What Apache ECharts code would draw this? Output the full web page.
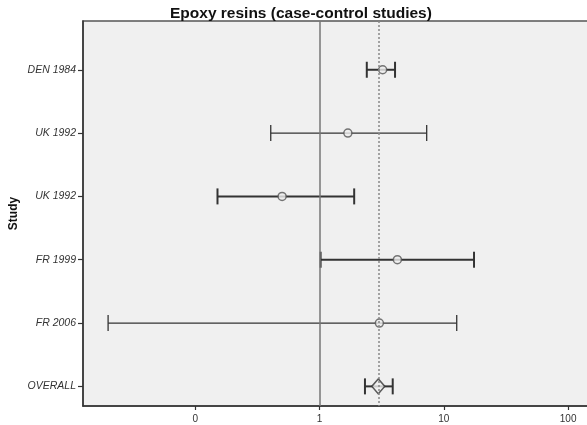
<!DOCTYPE html>
<html>
<head>
<meta charset="utf-8">
<script src="https://cdn.jsdelivr.net/npm/echarts@6/dist/echarts.min.js"></script>
<style>
  html, body { margin: 0; padding: 0; background: #fff; }
  #chart { width: 587px; height: 425px; }
</style>
</head>
<body>
<div id="chart"></div>
<script>
// odds ratios with 95% CI (log scale)
const studies = ["DEN 1984", "UK 1992", "UK 1992", "FR 1999", "FR 2006", "OVERALL"]
const oddsRatio = [3.22, 1.69, 0.50, 4.23, 3.03, 2.97]
const lowerCI = [2.40, 0.405, 0.151, 1.02, 0.0199, 2.32]
const upperCI = [4.05, 7.28, 1.90, 17.5, 12.7, 3.88]
const pooledOR = 2.97
const nullLine = 1

// line weight per row (heavier rows in the original)
const lineWidths = [2, 1.3, 2, 2, 1.3, 2]

const chart = echarts.init(document.getElementById("chart"))

const lastIdx = studies.length - 1
const barData = studies.map((_, i) => [i, lowerCI[i], upperCI[i]])
const studyPoints = studies.slice(0, lastIdx).map((_, i) => [oddsRatio[i], i])
const overallPoint = [[oddsRatio[lastIdx], lastIdx]]

chart.setOption({
  animation: false,
  title: {
    text: "Epoxy resins (case-control studies)",
    left: 165,
    top: 1,
    textStyle: {
      fontFamily: "Liberation Sans",
      fontSize: 15.5,
      fontWeight: "bold",
      color: "#111",
    },
  },
  grid: {
    left: 83,
    right: -3,
    top: 21,
    bottom: 19,
    outerBoundsMode: "none",
    show: true,
    backgroundColor: "#f0f0f0",
    borderColor: "#555",
    borderWidth: 1.5,
  },
  xAxis: {
    type: "log",
    logBase: 10,
    min: 0.0125,
    max: 150,
    axisLine: { onZero: false, lineStyle: { color: "#333", width: 1.5 } },
    axisTick: { length: 4, lineStyle: { color: "#333", width: 1.2 } },
    splitLine: { show: false },
    axisLabel: {
      showMinLabel: false,
      showMaxLabel: false,
      margin: 8,
      fontFamily: "Liberation Sans",
      fontSize: 10,
      color: "#333",
      formatter: (v) => (v < 1 ? "0" : String(Math.round(v))),
    },
  },
  yAxis: {
    type: "value",
    inverse: true,
    min: -0.77,
    max: 5.31,
    name: "Study",
    nameLocation: "middle",
    nameGap: 63,
    nameMoveOverlap: false,
    nameTextStyle: {
      fontFamily: "Liberation Sans",
      fontSize: 12,
      fontWeight: "bold",
      color: "#111",
    },
    axisLine: { show: true, onZero: false, lineStyle: { color: "#333", width: 1.5 } },
    axisTick: {
      show: true,
      length: 5,
      customValues: [0, 1, 2, 3, 4, 5],
      lineStyle: { color: "#333", width: 1.2 },
    },
    splitLine: { show: false },
    axisLabel: {
      customValues: [0, 1, 2, 3, 4, 5],
      margin: 7,
      fontFamily: "Liberation Sans",
      fontSize: 10.5,
      fontStyle: "italic",
      color: "#333",
      formatter: (v) => studies[Math.round(v)] || "",
    },
  },
  series: [
    {
      type: "custom",
      name: "CI",
      data: barData,
      encode: { x: [1, 2], y: 0 },
      renderItem: (params, api) => {
        const row = api.value(0)
        const p1 = api.coord([api.value(1), row])
        const p2 = api.coord([api.value(2), row])
        const w = lineWidths[params.dataIndex]
        const h = 8
        const style = { stroke: "#333", lineWidth: w }
        return {
          type: "group",
          children: [
            { type: "line", shape: { x1: p1[0], y1: p1[1], x2: p2[0], y2: p2[1] }, style },
            { type: "line", shape: { x1: p1[0], y1: p1[1] - h, x2: p1[0], y2: p1[1] + h }, style },
            { type: "line", shape: { x1: p2[0], y1: p2[1] - h, x2: p2[0], y2: p2[1] + h }, style },
          ],
        }
      },
      markLine: {
        silent: true,
        symbol: "none",
        label: { show: false },
        data: [
          { xAxis: nullLine, lineStyle: { color: "#777", width: 1.5, type: "solid" } },
          { xAxis: pooledOR, lineStyle: { color: "#888", width: 1.5, type: [2, 2] } },
        ],
      },
      z: 3,
    },
    {
      type: "scatter",
      name: "Study OR",
      data: studyPoints,
      symbol: "circle",
      symbolSize: 8,
      itemStyle: { color: "#eeeeee", borderColor: "#555", borderWidth: 1.5 },
      z: 4,
    },
    {
      type: "scatter",
      name: "Overall OR",
      data: overallPoint,
      symbol: "diamond",
      symbolSize: [13, 15],
      itemStyle: { color: "#f0f0f0", borderColor: "#333", borderWidth: 1.5 },
      z: 4,
    },
  ],
})
</script>
</body>
</html>
